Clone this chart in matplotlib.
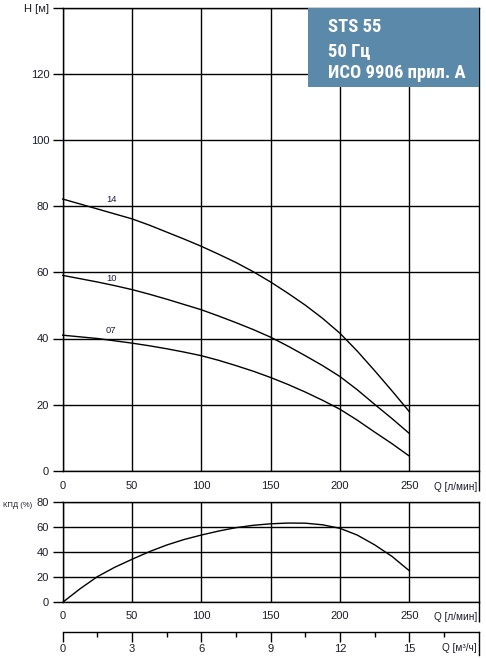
import matplotlib
matplotlib.use("Agg")
import matplotlib.pyplot as plt
from matplotlib import font_manager
from matplotlib.patches import Rectangle
from matplotlib.transforms import blended_transform_factory

# ---------------- data ----------------
q = [0, 12.5, 25, 37.5, 50, 62.5, 75, 87.5, 100, 112.5, 125, 137.5, 150,
     162.5, 175, 187.5, 200, 212.5, 225, 237.5, 250]           # л/мин
h_14 = [82.2, 80.7, 79.2, 77.7, 76.2, 74.3, 72.2, 70.1, 67.9, 65.5, 63.0, 60.2, 57.1,
        53.7, 50.1, 46.1, 41.6, 36.2, 30.3, 24.2, 17.9]
h_10 = [59.1, 58.1, 57.1, 56.0, 54.8, 53.4, 51.9, 50.3, 48.7, 46.8, 44.8, 42.7, 40.4,
        37.7, 34.8, 31.8, 28.5, 24.5, 20.1, 15.8, 11.3]
h_07 = [41.0, 40.5, 40.0, 39.3, 38.6, 37.8, 36.9, 35.9, 34.8, 33.4, 31.8, 30.1, 28.2,
        26.1, 23.8, 21.3, 18.6, 15.3, 11.7, 8.2, 4.45]
eff = [0, 10.8, 20.5, 28.0, 34.4, 40.5, 45.8, 50.2, 53.8, 57.0, 59.7, 61.6, 62.8,
       63.4, 63.3, 62.0, 59.2, 53.8, 46.0, 36.8, 25.3]
curve_names = ["14", "10", "07"]
label_pos = [(35, 82.2), (35, 58.1), (35, 42.3)]

h_ticks = [0, 20, 40, 60, 80, 100, 120, 140]
h_ticklabels = ["0", "20", "40", "60", "80", "100", "120", "H [м]"]
q_ticks = [0, 50, 100, 150, 200, 250]
e_ticks = [0, 20, 40, 60, 80]
m3_ticks = [0, 3, 6, 9, 12, 15]
m3_minor = [1.5, 4.5, 7.5, 10.5, 13.5, 16.5]
title_lines = ["STS 55", "50 Гц", "ИСО 9906 прил. A"]

# ---------------- style ----------------
names = {f.name for f in font_manager.fontManager.ttflist}
base_font = "Liberation Sans" if "Liberation Sans" in names else "DejaVu Sans"
narrow_font = base_font
for cand in ["Liberation Sans Narrow", "Arial Narrow", "Roboto Condensed",
             "DejaVu Sans Condensed", "Open Sans Condensed", "Noto Sans Condensed"]:
    if cand in names:
        narrow_font = cand
        break
plt.rcParams["font.family"] = [base_font, "DejaVu Sans"]
TXT = "#1b1b2b"
LW = 1.0
W, H = 486, 658

fig = plt.figure(figsize=(4.86, 6.58), dpi=100)

def fx(px):
    return px / W

def fy(py):
    return 1 - py / H

left, right = 62.7, 478.5
ax1 = fig.add_axes([fx(left), fy(470.7), fx(right - left), (470.7 - 8) / H])
ax2 = fig.add_axes([fx(left), fy(602.3), fx(right - left), (602.3 - 502.3) / H])
ax3 = fig.add_axes([fx(left), fy(631.7), fx(right - left), 0.0001])

for ax in (ax1, ax2):
    ax.set_xlim(0, 300)
    ax.grid(True, which="major", color="black", lw=LW)
    for s in ax.spines.values():
        s.set_linewidth(LW)
        s.set_color("black")
    ax.set_xticks(q_ticks)
    ax.set_xticks([300], minor=True)
    ax.tick_params(axis="x", which="major", length=0, labelsize=8, labelcolor=TXT)
    ax.tick_params(axis="x", which="minor", length=14.4, width=LW, direction="out")
    ax.tick_params(axis="y", which="major", length=7.2, width=LW, direction="out",
                   pad=2.5, labelsize=8, labelcolor=TXT)
    ax.set_axisbelow(True)

ax1.tick_params(axis="x", which="major", pad=7.3)
ax2.tick_params(axis="x", which="major", pad=6.0)

ax1.set_ylim(0, 140)
ax1.set_yticks(h_ticks)
ax1.set_yticklabels(h_ticklabels)
for y in (h_14, h_10, h_07):
    ax1.plot(q, y, color="black", lw=LW, clip_on=False)
for (lx, ly), nm in zip(label_pos, curve_names):
    ax1.text(lx, ly, nm, fontsize=6.8, color="#1a2244", ha="center", va="center")

ax2.set_ylim(0, 80)
ax2.set_yticks(e_ticks)
ax2.plot(q, eff, color="black", lw=LW, clip_on=False)
fig.text(fx(2.5), fy(505.5), "КПД (%)", fontsize=5.5, color=TXT, ha="left", va="center")

ax1.annotate("Q [л/мин]", xy=(1, 0), xycoords="axes fraction", xytext=(-1.5, -16.8),
             textcoords="offset pixels", ha="right", va="center", fontsize=7.2, color=TXT)
ax2.annotate("Q [л/мин]", xy=(1, 0), xycoords="axes fraction", xytext=(-1.5, -14.7),
             textcoords="offset pixels", ha="right", va="center", fontsize=7.2, color=TXT)

# m3/h axis
ax3.set_xlim(0, 18)
ax3.set_ylim(0, 1)
for k in ("left", "right", "top"):
    ax3.spines[k].set_visible(False)
ax3.spines["bottom"].set_linewidth(LW)
ax3.set_yticks([])
ax3.set_xticks(m3_ticks)
ax3.set_xticks(m3_minor, minor=True)
ax3.tick_params(axis="x", which="major", length=7.2, width=LW, direction="out",
                pad=1.5, labelsize=8, labelcolor=TXT)
ax3.tick_params(axis="x", which="minor", length=3.6, width=LW, direction="out")
tr = blended_transform_factory(ax3.transData, fig.transFigure)
ax3.plot([18, 18], [fy(631.7), fy(655)], transform=tr, color="black", lw=LW, clip_on=False)
ax3.annotate("Q [м³/ч]", xy=(1, 0), xycoords="axes fraction", xytext=(-1.5, -16.5),
             textcoords="offset pixels", ha="right", va="center", fontsize=7.2, color=TXT)

# title box
rect = Rectangle((fx(308.3), fy(87.3)), fx(479 - 308.3), (87.3 - 8) / H,
                 transform=fig.transFigure, facecolor="#5a89aa", edgecolor="none", zorder=5)
fig.add_artist(rect)
title_texts = []
for txt, by in zip(title_lines, (32, 56, 78)):
    t = fig.text(fx(328), fy(by), txt, fontsize=13.5, fontweight="bold", color="white",
                 family=[narrow_font, "DejaVu Sans"], ha="left", va="baseline", zorder=6)
    title_texts.append(t)

# fit the widest title line to the width it has in the reference (~138 px)
fig.canvas.draw()
rend = fig.canvas.get_renderer()
wpx = title_texts[2].get_window_extent(rend).width
if wpx > 0:
    scale = 138.0 / wpx
    for t in title_texts:
        t.set_fontsize(13.5 * scale)

fig.savefig("out.png", dpi=100)
